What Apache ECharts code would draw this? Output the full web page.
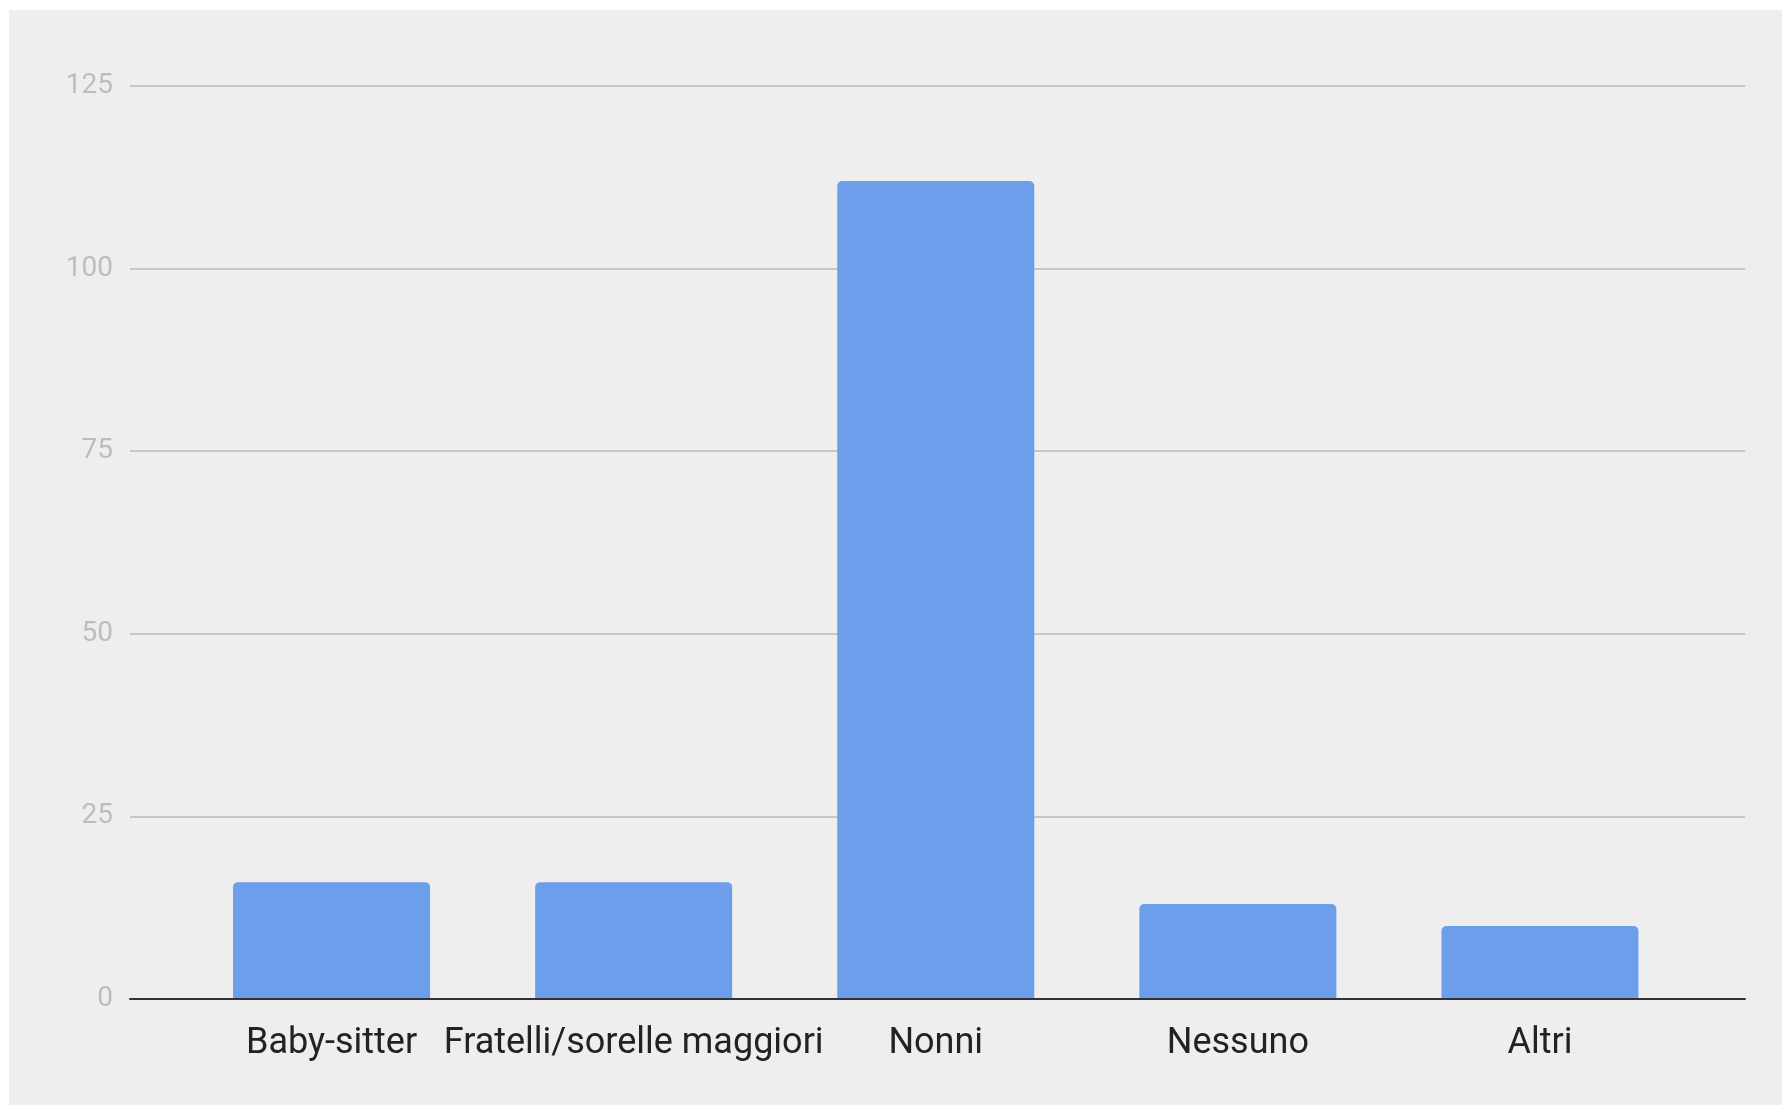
<!DOCTYPE html>
<html>
<head>
<meta charset="utf-8">
<script src="https://cdn.jsdelivr.net/npm/echarts@6/dist/echarts.min.js"></script>
<style>
  html, body { margin: 0; padding: 0; background: #ffffff; width: 1782px; height: 1110px; overflow: hidden; }
  #chart { position: absolute; left: 9px; top: 10px; width: 1773px; height: 1095px; }
</style>
</head>
<body>
<div id="chart"></div>
<script>
const categories = ['Baby-sitter', 'Fratelli/sorelle maggiori', 'Nonni', 'Nessuno', 'Altri'];
const values = [16, 16, 112, 13, 10];
const yTicks = [0, 25, 50, 75, 100, 125];

const chart = echarts.init(document.getElementById('chart'), null, { renderer: 'canvas' });
const option = {
  backgroundColor: '#eeeeee',
  animation: false,
  grid: [
    { left: 121, right: 37, top: 76, bottom: 106 },
    { left: 171.5, right: 91, top: 76, bottom: 106 }
  ],
  xAxis: [
    {
      gridIndex: 0, type: 'value', min: 0, max: 1, z: 5,
      axisLine: { show: true, onZero: false, lineStyle: { color: '#333333', width: 2 } },
      axisTick: { show: false }, axisLabel: { show: false }, splitLine: { show: false }
    },
    {
      gridIndex: 1, type: 'category', data: categories,
      axisLine: { show: false }, axisTick: { show: false }, splitLine: { show: false },
      axisLabel: { color: '#222222', fontFamily: 'Roboto', fontSize: 36, margin: 27, interval: 0 }
    }
  ],
  yAxis: [
    {
      gridIndex: 0, type: 'value', min: yTicks[0], max: yTicks[yTicks.length - 1], interval: 25,
      axisLine: { show: false }, axisTick: { show: false },
      axisLabel: { color: '#bdbdbd', fontFamily: 'Roboto', fontSize: 28, margin: 17, padding: [5, 0, 0, 0] },
      splitLine: { show: true, lineStyle: { color: '#c6c6c6', width: 2 } }
    },
    {
      gridIndex: 1, type: 'value', min: 0, max: 125, interval: 25, show: false,
      splitLine: { show: false }
    }
  ],
  series: [
    {
      type: 'bar', xAxisIndex: 1, yAxisIndex: 1, data: values,
      barWidth: 197,
      itemStyle: { color: '#6d9eeb', borderRadius: [5, 5, 0, 0] }
    }
  ]
};
chart.setOption(option);
</script>
</body>
</html>
